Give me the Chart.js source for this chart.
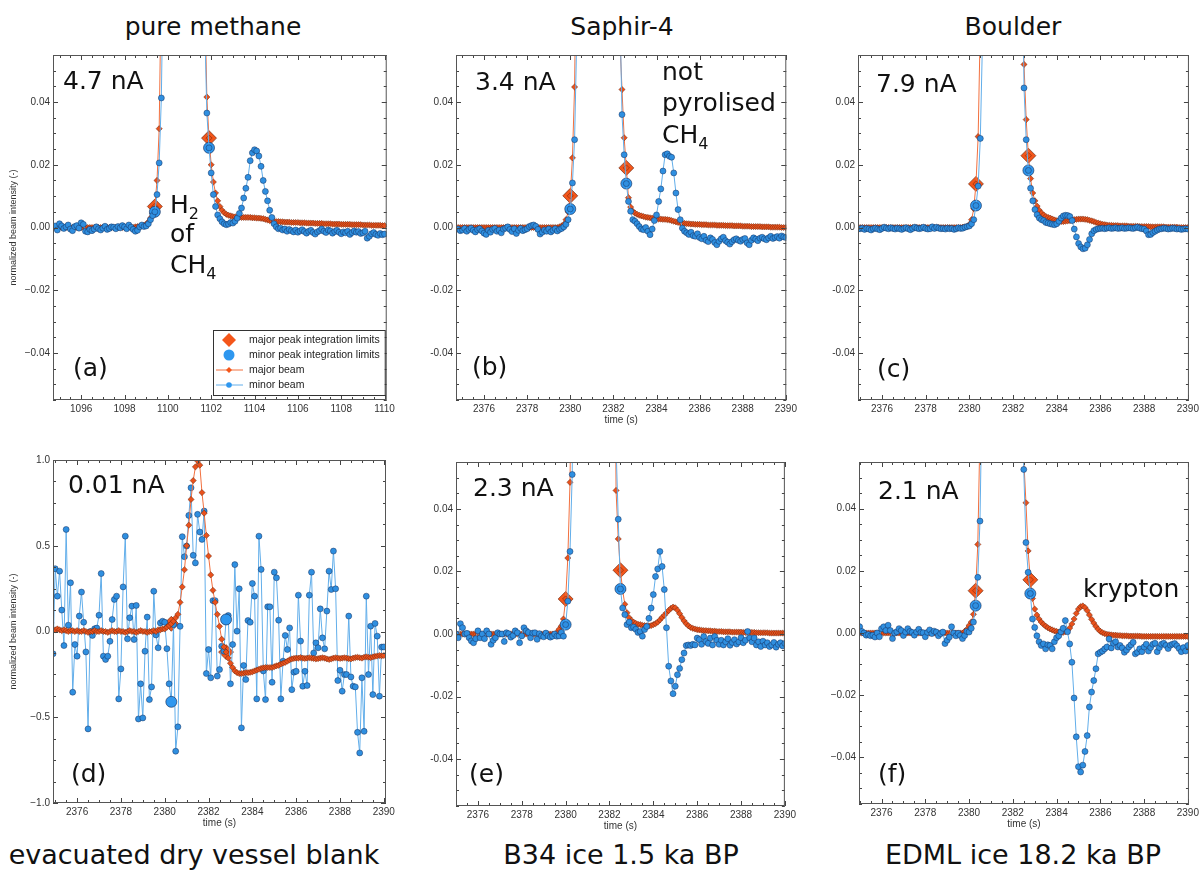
<!DOCTYPE html>
<html>
<head>
<meta charset="utf-8">
<script src="https://cdn.jsdelivr.net/npm/chart.js@4.4.0/dist/chart.umd.min.js"></script>
<style>
  body { margin: 0; background: #fff; width: 1203px; height: 870px; position: relative; overflow: hidden; font-family: "DejaVu Sans", sans-serif; }
  canvas { position: absolute; }
  .lbl { position: absolute; width: 440px; text-align: center; font-size: 25px; line-height: 30px; color: #111; }
  .bot { font-size: 27px; }
</style>
</head>
<body>
<div class="lbl" style="left:-7px;top:12px">pure methane</div>
<div class="lbl" style="left:402px;top:12px">Saphir-4</div>
<div class="lbl" style="left:793px;top:12px">Boulder</div>
<div class="lbl bot" style="left:-26px;top:840px">evacuated dry vessel blank</div>
<div class="lbl bot" style="left:401px;top:840px">B34 ice 1.5 ka BP</div>
<div class="lbl bot" style="left:803px;top:840px">EDML ice 18.2 ka BP</div>

<canvas id="pA"></canvas>
<canvas id="pB"></canvas>
<canvas id="pC"></canvas>
<canvas id="pD"></canvas>
<canvas id="pE"></canvas>
<canvas id="pF"></canvas>

<script>
// sampling: one value every 0.1 s, first value at t0 (x.8 s), last at x+15.0 s
const T_STEP = 0.1;

// tick values / labels
const xTicksA = [1096, 1098, 1100, 1102, 1104, 1106, 1108, 1110];
const xTicksB = [2376, 2378, 2380, 2382, 2384, 2386, 2388, 2390];
const yTicksSmall = [-0.04, -0.02, 0, 0.02, 0.04];
const yLabelsMinus = ['\u22120.04', '\u22120.02', '0.00', '0.02', '0.04'];
const yLabelsHyphen = ['-0.04', '-0.02', '0.00', '0.02', '0.04'];
const yTicksD = [-1, -0.5, 0, 0.5, 1];
const yLabelsD = ['\u22121.0', '\u22120.5', '0.0', '0.5', '1.0'];

// ---- (a) pure methane, t0 = 1094.8
const majorA = [
  0, 0,
  0, 0, 0, 0, 0, 0, 0, 0, 0, 0,
  0, 0, 0, 0, 0, 0, 0, 0, 0, 0,
  0, 0, 0, 0, 0, 0, 0, 0, 0, 0,
  0, 0, 0, 0, 0, .0002, .0003, .0004, .0005, .0007,
  .001, .0018, .003, .0045, .0067, .015, .0315, .08, .2, .45,
  .75, .92, .98, 1, 1, .99, .99, .98, .97, .96,
  .94, .92, .88, .8, .6, .3, .15, .075, .0416, .0285,
  .02, .0145, .011, .0085, .0067, .0055, .0047, .0042, .0039, .0037,
  .0035, .0034, .0033, .0033, .0032, .0032, .0032, .0032, .0032, .0031,
  .0031, .003, .003, .0029, .0028, .0026, .0024, .0022, .0021, .002,
  .0019, .0019, .0018, .0018, .0017, .0017, .0017, .0016, .0016, .0016,
  .0016, .0015, .0015, .0015, .0014, .0014, .0014, .0014, .0013, .0013,
  .0013, .0013, .0012, .0012, .0012, .0012, .0011, .0011, .0011, .0011,
  .001, .001, .001, .001, .001, .0009, .0009, .0009, .0009, .0009,
  .0008, .0008, .0008, .0008, .0007, .0007, .0007, .0007, .0007, .0006,
  .0006
];
const minorA = [
  .0005, -.0008,
  .0012, .0005, -.0003, .0002, .0008, -.0005, -.001, .0003, .0006, -.0002,
  .0015, .001, -.0012, -.0014, -.0006, -.001, -.0005, .0002, -.0004, -.0008,
  -.0002, .0004, -.0006, -.0003, .0002, .0001, -.0004, .0003, -.0001, .0006,
  .0002, -.0004, .0008, .0001, -.0006, -.0012, -.0009, .0002, .0008, .0003,
  .0005, .0012, .0025, .0038, .005, .0105, .0206, .0413, .09, .2,
  .45, .75, .95, 1, 1, 1, .99, .98, .97, .95,
  .93, .9, .85, .75, .55, .3, .15, .065, .0365, .0254,
  .0174, .0105, .0067, .004, .0028, .0018, .0012, .0009, .0011, .0016,
  .0014, .002, .003, .0045, .0062, .0094, .0125, .016, .0213, .0238,
  .0248, .0244, .0228, .0195, .015, .0115, .0085, .0055, .0032, .0012,
  .0002, -.0004, -.0002, -.0008, -.0005, -.0012, -.0006, -.001, -.0014, -.0008,
  -.0015, -.0011, -.0007, -.0013, -.0018, -.0012, -.0009, -.0016, -.0021, -.0014,
  -.001, -.0005, -.0012, -.0016, -.0008, -.0011, -.0018, -.0013, -.0009, -.0015,
  -.002, -.0014, -.0017, -.0012, -.0022, -.0016, -.0011, -.0015, -.0013, -.0019,
  -.0017, -.0012, -.0034, -.0028, -.002, -.0016, -.0022, -.0025, -.0019, -.0023,
  -.0021
];
const limMajTA = [1099.4, 1101.9], limMajVA = [.0067, .0285];
const limMinTA = [1099.4, 1101.9], limMinVA = [.005, .0254];

// ---- (b) Saphir-4, t0 = 2374.8
const majorB = [
  0, 0,
  0, 0, 0, 0, 0, 0, 0, 0, 0, 0,
  0, 0, 0, 0, 0, 0, 0, 0, 0, 0,
  0, 0, 0, 0, 0, 0, 0, 0, 0, 0,
  0, 0, 0, 0, 0, 0, 0, 0, 0, 0,
  0, 0, 0, 0, 0, .0002, .0005, .001, .0025, .005,
  .0101, .0222, .0448, .1, .25, .55, .85, .98, 1, 1,
  1, 1, .99, .98, .96, .93, .9, .85, .78, .65,
  .45, .25, .12, .06, .044, .0286, .019, .0095, .0065, .0052,
  .0046, .0042, .0039, .0037, .0035, .0033, .0032, .0031, .003, .0029,
  .0028, .0027, .0027, .0026, .0026, .0025, .0024, .0022, .002, .0018,
  .0016, .0015, .0014, .0013, .0012, .0012, .0011, .0011, .001, .001,
  .001, .0009, .0009, .0009, .0008, .0008, .0008, .0008, .0007, .0007,
  .0007, .0007, .0006, .0006, .0006, .0006, .0005, .0005, .0005, .0005,
  .0004, .0004, .0004, .0004, .0003, .0003, .0003, .0003, .0003, .0002,
  .0002, .0002, .0002, .0001, .0001, .0001, .0001, .0001, 0, 0,
  0
];
const minorB = [
  -.0005, -.001,
  -.0008, -.0003, -.0012, -.0006, -.0002, -.0009, -.0014, -.0007, -.0004, -.0011,
  -.0018, -.0022, -.0009, -.0015, -.0006, -.0003, -.0012, -.0008, -.0017, -.0005,
  -.0002, .0002, -.0006, -.0013, -.0004, -.0019, -.0009, -.0003, -.001, -.0007,
  -.0004, .0003, .0006, .0008, .0004, -.0006, -.0021, -.0015, -.0008, -.0012,
  -.0005, -.0014, -.0009, -.0004, -.0011, -.0006, -.0003, .0002, .001, .0025,
  .0059, .0142, .028, .06, .14, .35, .65, .88, .97, 1,
  1, 1, .99, .98, .96, .93, .9, .85, .78, .7,
  .6, .45, .13, .07, .036, .0232, .014, .0083, .0052, .0025,
  .002, .0012, .0003, -.0005, -.0007, 0, -.0012, -.0023, -.0005, .0022,
  .004, .0083, .0123, .018, .0232, .0235, .0227, .0224, .0174, .011,
  .0057, .0025, -.0002, -.0012, -.0017, -.0022, -.0015, -.0026, -.0028, -.002,
  -.0032, -.0036, -.0028, -.0041, -.0045, -.0033, -.0038, -.0048, -.0055, -.0044,
  -.0036, -.0031, -.0042, -.0047, -.0053, -.0045, -.0039, -.0036, -.0041, -.0044,
  -.0038, -.0035, -.0049, -.0055, -.0041, -.0033, -.0037, -.0042, -.0034, -.0031,
  -.0036, -.0039, -.0033, -.0028, -.0035, -.0032, -.0029, -.0034, -.0027, -.003,
  -.0032
];
const limMajTB = [2380.0, 2382.6], limMajVB = [.0101, .019];
const limMinTB = [2380.0, 2382.6], limMinVB = [.0059, .014];

// ---- (c) Boulder, t0 = 2374.8
const majorC = [
  0, 0,
  0, 0, 0, 0, 0, 0, 0, 0, 0, 0,
  0, 0, 0, 0, 0, 0, 0, 0, 0, 0,
  0, 0, 0, 0, 0, 0, 0, 0, 0, 0,
  0, 0, 0, 0, 0, 0, 0, 0, 0, 0,
  0, 0, 0, 0, 0, 0, 0, .0001, .0002, .0004,
  .001, .0025, .006, .0139, .029, .065, .15, .35, .65, .9,
  1, 1, 1, .99, .97, .93, .88, .8, .7, .55,
  .45, .35, .25, .2, .09, .052, .0344, .0229, .0156, .011,
  .0085, .0068, .0055, .0046, .004, .0035, .0032, .003, .0027, .0024,
  .0022, .002, .0019, .0019, .002, .0021, .0022, .0024, .0025, .0026,
  .0027, .0027, .0027, .0026, .0025, .0023, .0021, .0019, .0016, .0014,
  .0012, .001, .0009, .0008, .0007, .0007, .0006, .0006, .0006, .0005,
  .0005, .0005, .0005, .0004, .0004, .0004, .0004, .0004, .0003, .0003,
  .0003, .0003, .0003, .0002, .0002, .0002, .0002, .0002, .0002, .0002,
  .0001, .0001, .0001, .0001, .0001, .0001, 0, 0, 0, 0,
  0
];
const minorC = [
  -.0003, -.0005,
  -.0004, -.0002, -.0006, -.0003, -.0005, -.0008, -.0004, -.0002, -.0005, -.0007,
  -.0003, .0001, -.0002, -.0004, -.0001, -.0003, -.0005, -.0002, -.0004, -.0006,
  -.0003, -.0001, -.0004, -.0007, -.0003, .0001, -.0002, -.0004, -.0002, .0001,
  -.0003, -.0005, -.0004, .0002, -.0003, .0001, -.0002, -.0004, -.0003, -.0005,
  -.0002, -.0004, -.0003, -.0006, -.0004, -.0001, -.0003, -.0002, .0001, .0003,
  .0005, .0012, .0025, .007, .0132, .0284, .06, .14, .35, .65,
  .9, 1, 1, 1, .99, .97, .93, .88, .8, .7,
  .6, .5, .4, .25, .1, .0445, .028, .0182, .0125, .0085,
  .0057, .0041, .003, .0025, .0022, .0016, .0014, .0012, .001, .0009,
  .0012, .002, .003, .0037, .0039, .0038, .0035, .0022, -.0005, -.003,
  -.0051, -.0062, -.0068, -.0066, -.0055, -.0038, -.002, -.001, -.0006, -.0004,
  -.0003, -.0002, -.0004, -.0002, -.0001, -.0003, -.0002, -.0001, -.0003, -.0002,
  -.0001, -.0003, -.0002, -.0001, -.0002, -.0003, -.0001, .0001, -.0002, -.0004,
  -.0005, -.0011, -.0023, -.0022, -.0016, -.0012, -.0008, -.0005, -.0004, -.0002,
  -.0003, -.0005, -.0004, -.0002, -.0003, -.0005, -.0004, -.0006, -.0005, -.0004,
  -.0005
];
const limMajTC = [2380.3, 2382.7], limMajVC = [.0139, .0229];
const limMinTC = [2380.3, 2382.7], limMinVC = [.007, .0182];

// ---- (d) evacuated dry vessel blank, t0 = 2374.8
const majorD = [
  .005, .01,
  .01, .015, .01, .005, .01, .005, 0, .005, .005, 0,
  .005, 0, 0, .005, 0, -.005, 0, 0, .005, 0,
  0, .005, 0, 0, -.005, 0, .005, 0, 0, .005,
  0, 0, -.005, 0, .005, 0, 0, -.005, 0, .005,
  0, 0, -.005, 0, 0, .005, 0, .01, .01, .015,
  .015, .025, .035, .045, .06, .08, .1, .17, .26, .36,
  .5, .62, .77, .88, .96, .995, .97, .81, .69, .56,
  .44, .33, .24, .17, .1, .03, -.045, -.09, -.12, -.155,
  -.185, -.21, -.23, -.24, -.245, -.245, -.243, -.24, -.24, -.238,
  -.235, -.23, -.225, -.22, -.215, -.212, -.21, -.21, -.21, -.21,
  -.205, -.2, -.197, -.19, -.185, -.18, -.173, -.165, -.16, -.157,
  -.155, -.155, -.152, -.155, -.157, -.155, -.153, -.155, -.157, -.16,
  -.158, -.155, -.153, -.155, -.16, -.163, -.16, -.155, -.153, -.155,
  -.157, -.155, -.153, -.155, -.158, -.16, -.155, -.152, -.15, -.153,
  -.155, -.15, -.148, -.15, -.152, -.148, -.145, -.143, -.14, -.142,
  -.14
];
const minorD = [
  .05, -.13,
  .366, .206, .352, .125, -.082, .595, .037, .284, -.354, -.076,
  -.144, .09, .23, .054, -.119, -.568, 0, -.023, .016, .02,
  .095, .338, -.144, -.163, -.144, -.057, .07, .187, .206, -.393,
  -.218, .26, .556, -.043, .08, .148, -.047, .152, -.51, -.305,
  -.504, -.115, .084, -.397, -.323, .235, -.02, -.095, .05, .06,
  .054, -.1, -.305, -.41, .04, -.698, -.556, .03, .553, .436,
  .498, .677, .838, .444, .4, .683, .58, .537, .702, -.245,
  -.105, -.27, .18, .18, -.26, -.222, -.086, -.115, .07, .093,
  -.305, -.076, .39, .002, .249, -.562, -.198, -.28, .064, .054,
  .28, .206, -.393, .556, .362, -.23, -.397, .144, .144, -.296,
  .346, .313, .066, -.393, -.173, -.023, -.105, .021, -.339, -.237,
  -.232, .212, -.056, -.319, -.232, -.315, .212, .346, -.125, -.066,
  -.095, .132, -.037, -.101, .119, .352, .245, .469, .249, -.286,
  -.226, -.348, -.251, -.251, .09, -.265, -.319, -.323, -.588, -.708,
  -.27, -.582, .206, -.251, .031, -.368, .047, -.027, -.377, -.091,
  -.09
];
const limMajTD = [2380.3, 2382.8], limMajVD = [.045, -.12];
const limMinTD = [2380.3, 2382.8], limMinVD = [-.41, .07];

// ---- (e) B34 ice, t0 = 2374.8
const majorE = [
  0, 0,
  0, 0, 0, 0, 0, 0, 0, 0, 0, 0,
  0, 0, 0, 0, 0, 0, 0, 0, 0, 0,
  0, 0, 0, 0, 0, 0, 0, 0, 0, 0,
  0, 0, 0, 0, 0, 0, 0, 0, 0, 0,
  0, 0, 0, 0, 0, 0, .0005, .0015, .0025, .0048,
  .0112, .0243, .0485, .11, .25, .5, .8, .95, 1, 1,
  1, .99, .98, .96, .93, .9, .85, .78, .7, .6,
  .45, .3, .15, .0459, .0304, .0204, .014, .0095, .0068, .0052,
  .0043, .0038, .0034, .0031, .003, .0028, .0027, .0026, .0026, .0027,
  .003, .0033, .0038, .0045, .0053, .006, .0068, .0075, .0082, .0086,
  .0084, .0076, .0065, .0053, .0042, .0033, .0026, .0021, .0018, .0016,
  .0014, .0013, .0012, .0011, .0011, .001, .001, .0009, .0009, .0008,
  .0008, .0008, .0007, .0007, .0007, .0007, .0006, .0006, .0006, .0006,
  .0006, .0005, .0005, .0005, .0005, .0005, .0005, .0004, .0004, .0004,
  .0004, .0004, .0004, .0003, .0003, .0003, .0003, .0003, .0003, .0003,
  .0003
];
const minorE = [
  .0025, .003,
  0, -.0012, .0033, .002, 0, .0002, -.0012, -.0022, -.0028, -.0015,
  .001, -.0012, 0, -.0015, .001, 0, -.0033, -.002, -.0012, .0004,
  0, 0, -.0024, .0004, .0001, -.001, -.0005, .001, .0004, -.0028,
  -.0006, .002, .001, .0005, -.0012, .0003, .0004, -.0017, .0001, -.0006,
  -.0009, .0003, -.0006, -.001, -.0007, 0, -.0007, -.0006, .0005, -.0007,
  .003, .0105, .0264, .051, .12, .3, .6, .85, .97, 1,
  1, 1, .99, .97, .94, .9, .85, .78, .7, .6,
  .45, .3, .12, .06, .0367, .0144, .0083, .0062, .003, .0038,
  .002, .0022, .0015, .0005, .0008, -.0007, .0014, .0024, .005, .0083,
  .0126, .0184, .0208, .0264, .0216, .0142, .002, -.0103, -.015, -.0191,
  -.0167, -.013, -.011, -.0082, -.0061, -.0037, -.0035, -.0037, -.0033, -.0035,
  -.0013, -.0018, -.0033, -.0008, -.0024, -.003, -.0013, -.0035, -.0008, -.002,
  -.0033, -.002, -.0035, -.0025, -.0015, -.0036, -.0027, -.0018, -.0032, -.0025,
  -.0012, -.0028, -.002, .0008, -.0013, -.0025, -.0013, -.0035, -.0025, -.004,
  -.0023, -.0035, -.0028, -.004, -.0035, -.0027, -.0042, -.0033, -.0028, -.0038,
  -.003
];
const limMajTE = [2380.0, 2382.5], limMajVE = [.0112, .0204];
const limMinTE = [2380.0, 2382.5], limMinVE = [.003, .0144];

// ---- (f) EDML ice, t0 = 2374.8
const majorF = [
  0, 0,
  0, 0, 0, 0, 0, 0, 0, 0, 0, 0,
  0, 0, 0, 0, 0, 0, 0, 0, 0, 0,
  0, 0, 0, 0, 0, 0, 0, 0, 0, 0,
  0, 0, 0, 0, 0, 0, 0, 0, 0, 0,
  0, 0, 0, 0, 0, 0, 0, 0, .0005, .0012,
  .0024, .0035, .006, .0136, .0285, .065, .15, .35, .65, .9,
  1, 1, 1, .99, .97, .94, .9, .85, .78, .7,
  .6, .45, .3, .2, .1, .056, .0419, .0264, .0171, .0111,
  .0077, .0058, .0045, .0035, .0028, .0022, .0017, .0013, .001, .0007,
  .0005, .0003, .0002, .0002, .0004, .0009, .0016, .0029, .0045, .0063,
  .0077, .0085, .0087, .0082, .0072, .0058, .0044, .0032, .0021, .0012,
  .0005, .0001, -.0002, -.0004, -.0005, -.0006, -.0007, -.0007, -.0008, -.0008,
  -.0009, -.0009, -.0009, -.001, -.001, -.001, -.001, -.001, -.001, -.0011,
  -.0011, -.0011, -.0011, -.0011, -.0011, -.0011, -.0011, -.0011, -.0011, -.0011,
  -.0011, -.0011, -.0011, -.0011, -.0011, -.0011, -.0011, -.0011, -.0011, -.0011,
  -.0011
];
const minorF = [
  .0028, .0025,
  .002, .0005, 0, -.0007, -.0005, -.0009, -.0007, -.0013, 0, -.0012,
  .0014, .002, .0008, .0025, .0008, -.0018, 0, .0004, .0014, .0008,
  -.0008, .0003, .0014, .0005, .0002, -.0007, .0003, .0012, .0002, .0001,
  -.0012, .0002, .001, -.0002, .0006, .0003, -.0009, -.0002, .0003, -.0034,
  -.0023, -.0013, .002, 0, -.0009, -.0001, -.0008, -.0018, -.0008, .0005,
  .0003, .0015, .0035, .0088, .0179, .036, .08, .2, .45, .75,
  .93, 1, 1, .99, .97, .94, .9, .85, .78, .7,
  .6, .5, .35, .2, .1, .0526, .0291, .0195, .0127, .0045,
  .0018, -.0009, -.0028, -.004, -.0035, -.0051, -.0038, -.004, -.0051, -.0028,
  -.0015, -.0009, .0004, .0015, .004, .0004, -.0035, -.0094, -.0209, -.0334,
  -.043, -.0447, -.0425, -.0381, -.033, -.0238, -.019, -.0153, -.0115, -.0067,
  -.0062, -.0058, -.0051, -.0045, -.0019, -.0048, -.0033, -.0028, -.0045, -.004,
  -.0048, -.0062, -.0055, -.0045, -.0038, -.003, -.0067, -.0062, -.0051, -.006,
  -.0045, -.0036, -.0058, -.0047, -.0036, -.0033, -.006, -.0047, -.0036, -.0033,
  -.004, -.005, -.0039, -.0036, -.0034, -.0041, -.005, -.006, -.0047, -.0058,
  -.004
];
const limMajTF = [2380.3, 2382.8], limMajVF = [.0136, .0171];
const limMinTF = [2380.3, 2382.8], limMinVF = [.0088, .0127];

// colours
const ORANGE = '#e9521c', ORANGE_LINE = '#f2703f', ORANGE_EDGE = 'rgba(90,30,10,0.75)';
const BLUE = '#2f8fe0', BLUE_LINE = '#62aeea', BLUE_EDGE = 'rgba(20,45,90,0.8)';
const ORANGE_BIG = '#f4561a', BLUE_BIG = '#2e97ef';

function timeGrid(t0, n) {
  return Array.from({ length: n }, (_, i) => Math.round((t0 + i * T_STEP) * 10) / 10);
}
function series(t0, vals) {
  const t = timeGrid(t0, vals.length);
  return vals.map((v, i) => ({ x: t[i], y: v }));
}
function pairs(ts, vs) {
  return ts.map((t, i) => ({ x: t, y: vs[i] }));
}

// plot boxes in page pixels
const panels = [
  { id: 'pA', l: 53, t: 55, r: 388, b: 400, t0: 1094.8, xMin: 1094.7, xMax: 1110.1, xTicks: xTicksA,
    yMin: -0.055, yMax: 0.055, yTicks: yTicksSmall, yLabels: yLabelsMinus,
    major: majorA, minor: minorA, lmT: limMajTA, lmV: limMajVA, lnT: limMinTA, lnV: limMinVA,
    yTitle: true, xTitle: false, legend: true, orangeTop: false,
    notes: [{ x: 10, y: 34, parts: ['4.7 nA'] }, { x: 20, y: 321, parts: ['(a)'] },
            { x: 117, y: 158, parts: ['H', '_2'] }, { x: 117, y: 187, parts: ['of'] }, { x: 117, y: 218, parts: ['CH', '_4'] }] },
  { id: 'pB', l: 456, t: 55, r: 790, b: 400, t0: 2374.8, xMin: 2374.7, xMax: 2390.02, xTicks: xTicksB,
    yMin: -0.055, yMax: 0.055, yTicks: yTicksSmall, yLabels: yLabelsHyphen,
    major: majorB, minor: minorB, lmT: limMajTB, lmV: limMajVB, lnT: limMinTB, lnV: limMinVB,
    yTitle: false, xTitle: true, legend: false, orangeTop: false,
    notes: [{ x: 19, y: 35, parts: ['3.4 nA'] }, { x: 16, y: 320, parts: ['(b)'] },
            { x: 206, y: 25, parts: ['not'] }, { x: 206, y: 56, parts: ['pyrolised'] }, { x: 206, y: 88, parts: ['CH', '_4'] }] },
  { id: 'pC', l: 858, t: 55, r: 1192, b: 400, t0: 2374.8, xMin: 2374.9, xMax: 2390.05, xTicks: xTicksB,
    yMin: -0.055, yMax: 0.055, yTicks: yTicksSmall, yLabels: yLabelsHyphen,
    major: majorC, minor: minorC, lmT: limMajTC, lmV: limMajVC, lnT: limMinTC, lnV: limMinVC,
    yTitle: false, xTitle: false, legend: false, orangeTop: false,
    notes: [{ x: 18, y: 37, parts: ['7.9 nA'] }, { x: 19, y: 322, parts: ['(c)'] }] },
  { id: 'pD', l: 53, t: 460, r: 388, b: 803, t0: 2374.8, xMin: 2374.9, xMax: 2390.1, xTicks: xTicksB,
    yMin: -1, yMax: 1, yTicks: yTicksD, yLabels: yLabelsD,
    major: majorD, minor: minorD, lmT: limMajTD, lmV: limMajVD, lnT: limMinTD, lnV: limMinVD,
    yTitle: true, xTitle: true, legend: false, orangeTop: true,
    notes: [{ x: 15, y: 33, parts: ['0.01 nA'] }, { x: 18, y: 322, parts: ['(d)'] }] },
  { id: 'pE', l: 456, t: 462, r: 789, b: 806, t0: 2374.8, xMin: 2375.0, xMax: 2390.0, xTicks: xTicksB,
    yMin: -0.055, yMax: 0.055, yTicks: yTicksSmall, yLabels: yLabelsHyphen,
    major: majorE, minor: minorE, lmT: limMajTE, lmV: limMajVE, lnT: limMinTE, lnV: limMinVE,
    yTitle: false, xTitle: true, legend: false, orangeTop: false,
    notes: [{ x: 17, y: 34, parts: ['2.3 nA'] }, { x: 13, y: 320, parts: ['(e)'] }] },
  { id: 'pF', l: 859, t: 462, r: 1192, b: 804, t0: 2374.8, xMin: 2374.97, xMax: 2390.05, xTicks: xTicksB,
    yMin: -0.055, yMax: 0.055, yTicks: yTicksSmall, yLabels: yLabelsMinus,
    major: majorF, minor: minorF, lmT: limMajTF, lmV: limMajVF, lnT: limMinTF, lnV: limMinVF,
    yTitle: false, xTitle: true, legend: false, orangeTop: false,
    notes: [{ x: 19, y: 37, parts: ['2.1 nA'] }, { x: 19, y: 320, parts: ['(f)'] }, { x: 224, y: 135, parts: ['krypton'] }] }
];
const panelById = {};
panels.forEach(p => { panelById[p.id] = p; });

const NOTE_SIZE = 25;
function drawNote(ctx, x, y, parts) {
  let cx = x;
  for (const part of parts) {
    const sub = part.startsWith('_');
    const txt = sub ? part.slice(1) : part;
    const fs = sub ? Math.round(NOTE_SIZE * 0.65) : NOTE_SIZE;
    ctx.font = fs + 'px "DejaVu Sans"';
    ctx.fillText(txt, cx, sub ? y + NOTE_SIZE * 0.24 : y);
    cx += ctx.measureText(txt).width;
  }
}

function drawLegend(ctx, a) {
  const x0 = a.left + 160, y0 = a.top + 275, x1 = a.right - 2, y1 = a.top + 340;
  ctx.fillStyle = '#fff';
  ctx.fillRect(x0, y0, x1 - x0, y1 - y0);
  ctx.strokeStyle = '#333';
  ctx.lineWidth = 1;
  ctx.strokeRect(x0 + 0.5, y0 + 0.5, x1 - x0, y1 - y0);
  const sx = x0 + 16, tx = x0 + 36;
  const rows = [
    { label: 'major peak integration limits', kind: 'bigDiamond' },
    { label: 'minor peak integration limits', kind: 'bigCircle' },
    { label: 'major beam', kind: 'orangeLine' },
    { label: 'minor beam', kind: 'blueLine' }
  ];
  rows.forEach((row, i) => {
    const y = y0 + 10 + i * 15;
    if (row.kind === 'orangeLine' || row.kind === 'blueLine') {
      ctx.strokeStyle = row.kind === 'orangeLine' ? ORANGE_LINE : BLUE_LINE;
      ctx.beginPath(); ctx.moveTo(x0 + 3, y); ctx.lineTo(x0 + 30, y); ctx.stroke();
    }
    ctx.fillStyle = row.kind === 'bigDiamond' || row.kind === 'orangeLine' ? ORANGE_BIG : BLUE_BIG;
    ctx.beginPath();
    if (row.kind === 'bigDiamond') {
      ctx.moveTo(sx - 7, y); ctx.lineTo(sx, y - 7); ctx.lineTo(sx + 7, y); ctx.lineTo(sx, y + 7); ctx.closePath();
    } else if (row.kind === 'bigCircle') {
      ctx.arc(sx, y, 5.5, 0, Math.PI * 2);
    } else if (row.kind === 'orangeLine') {
      ctx.moveTo(sx - 3, y); ctx.lineTo(sx, y - 3); ctx.lineTo(sx + 3, y); ctx.lineTo(sx, y + 3); ctx.closePath();
    } else {
      ctx.arc(sx, y, 2.8, 0, Math.PI * 2);
    }
    ctx.fill();
    ctx.fillStyle = '#222';
    ctx.font = '10.5px "Liberation Sans"';
    ctx.textBaseline = 'middle';
    ctx.fillText(row.label, tx, y);
    ctx.textBaseline = 'alphabetic';
  });
}

// frame, inward ticks on all sides, text notes, legend
const decor = {
  id: 'decor',
  afterDatasetsDraw(chart) {
    const p = panelById[chart.canvas.id];
    const { ctx, chartArea: a } = chart;
    const xs = chart.scales.x, ys = chart.scales.y;
    ctx.save();
    ctx.strokeStyle = '#444';
    ctx.lineWidth = 1;
    ctx.beginPath();
    const xTick = (v, len) => {
      const px = Math.round(xs.getPixelForValue(v)) + 0.5;
      ctx.moveTo(px, a.bottom); ctx.lineTo(px, a.bottom - len);
      ctx.moveTo(px, a.top); ctx.lineTo(px, a.top + len);
    };
    const yTick = (v, len) => {
      const py = Math.round(ys.getPixelForValue(v)) + 0.5;
      ctx.moveTo(a.left, py); ctx.lineTo(a.left + len, py);
      ctx.moveTo(a.right, py); ctx.lineTo(a.right - len, py);
    };
    for (let v = Math.ceil(xs.min * 2) / 2; v <= xs.max; v += 0.5) xTick(v, 3);
    p.xTicks.forEach(v => xTick(v, 5));
    const ystep = (p.yTicks[1] - p.yTicks[0]) / 4;
    for (let k = Math.ceil(ys.min / ystep); k * ystep <= ys.max; k++) yTick(k * ystep, 3);
    p.yTicks.forEach(v => yTick(v, 5));
    ctx.stroke();
    ctx.strokeStyle = '#555';
    ctx.strokeRect(a.left + 0.5, a.top + 0.5, a.width - 1, a.height - 1);

    ctx.fillStyle = '#111';
    p.notes.forEach(n => drawNote(ctx, a.left + n.x, a.top + n.y, n.parts));
    if (p.legend) drawLegend(ctx, a);
    ctx.restore();
  }
};

Chart.defaults.font.family = '"Liberation Sans", Arial, sans-serif';

panels.forEach(p => {
  const cvs = document.getElementById(p.id);
  const left = p.l - 53, top = p.t - 15;
  const w = Math.min(p.r - left + 10, 1203 - left), h = p.b + 26 - top;
  cvs.width = w; cvs.height = h;
  cvs.style.left = left + 'px'; cvs.style.top = top + 'px';
  cvs.style.width = w + 'px'; cvs.style.height = h + 'px';

  const oMajor = p.orangeTop ? 2 : 4;
  const oMinor = p.orangeTop ? 4 : 2;

  new Chart(cvs, {
    type: 'scatter',
    data: {
      datasets: [
        { label: 'major peak integration limits', data: pairs(p.lmT, p.lmV), showLine: false,
          pointStyle: 'rectRot', pointRadius: 7.5, pointBackgroundColor: ORANGE_BIG, pointBorderColor: ORANGE_EDGE,
          pointBorderWidth: 0.8, order: 5 },
        { label: 'major beam', data: series(p.t0, p.major), showLine: true, borderColor: ORANGE_LINE, borderWidth: 1,
          pointStyle: 'rectRot', pointRadius: 3.1, pointBackgroundColor: ORANGE, pointBorderColor: ORANGE_EDGE,
          pointBorderWidth: 0.6, order: oMajor },
        { label: 'minor peak integration limits', data: pairs(p.lnT, p.lnV), showLine: false,
          pointStyle: 'circle', pointRadius: 5.5, pointBackgroundColor: BLUE_BIG, pointBorderColor: BLUE_EDGE,
          pointBorderWidth: 0.8, order: 3 },
        { label: 'minor beam', data: series(p.t0, p.minor), showLine: true, borderColor: BLUE_LINE, borderWidth: 1,
          pointStyle: 'circle', pointRadius: 3.0, pointBackgroundColor: BLUE, pointBorderColor: BLUE_EDGE,
          pointBorderWidth: 0.6, order: oMinor }
      ]
    },
    options: {
      responsive: false,
      animation: false,
      devicePixelRatio: 1,
      events: [],
      layout: { padding: { left: 0, top: 15, right: 10, bottom: 0 } },
      plugins: { legend: { display: false }, tooltip: { enabled: false } },
      scales: {
        x: {
          type: 'linear', min: p.xMin, max: p.xMax,
          grid: { display: false, drawTicks: false }, border: { display: false },
          afterBuildTicks: s => { s.ticks = p.xTicks.map(v => ({ value: v })); },
          afterFit: s => { s.height = 26; },
          ticks: { autoSkip: false, maxRotation: 0, padding: 3, color: '#333', font: { size: 10 },
                   callback: v => String(v) },
          title: { display: p.xTitle, text: 'time (s)', color: '#333', font: { size: 10 }, padding: 0 }
        },
        y: {
          min: p.yMin, max: p.yMax,
          grid: { display: false, drawTicks: false }, border: { display: false },
          afterBuildTicks: s => { s.ticks = p.yTicks.map(v => ({ value: v })); },
          afterFit: s => { s.width = 53; },
          ticks: { autoSkip: false, padding: 3, color: '#333', font: { size: 10 },
                   callback: v => p.yLabels[p.yTicks.indexOf(v)] },
          title: { display: p.yTitle, text: 'normalized beam intensity (-)', color: '#333', font: { size: 9 }, padding: { top: 8, bottom: 0 } }
        }
      }
    },
    plugins: [decor]
  });
});
</script>
</body>
</html>
